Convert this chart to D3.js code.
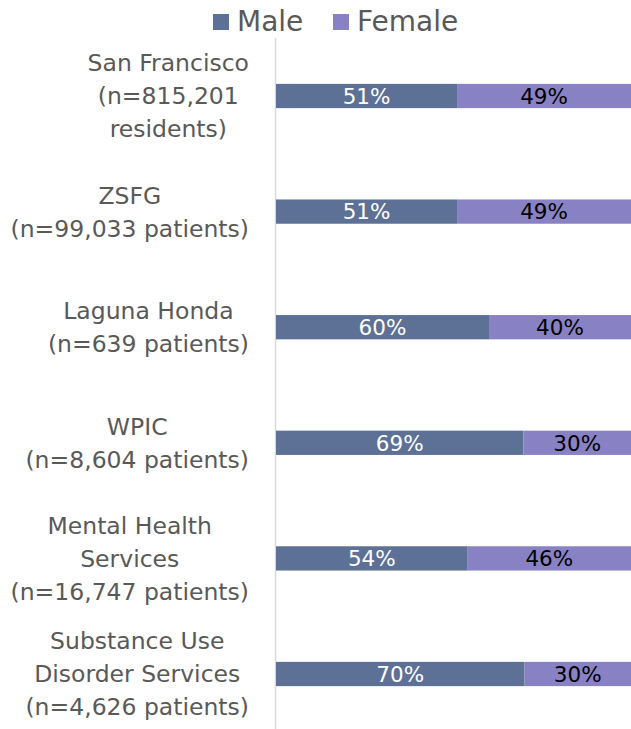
<!DOCTYPE html>
<html>
<head>
<meta charset="utf-8">
<script src="https://cdn.jsdelivr.net/npm/d3@7"></script>
<style>
  html, body { margin: 0; padding: 0; background: #fff; }
  svg { display: block; }
</style>
</head>
<body>
<svg id="chart" width="631" height="729"></svg>
<script>
// ---- data ----
const categories = [
  "San Francisco|(n=815,201|residents)",
  "ZSFG|(n=99,033 patients)",
  "Laguna Honda|(n=639 patients)",
  "WPIC|(n=8,604 patients)",
  "Mental Health|Services|(n=16,747 patients)",
  "Substance Use|Disorder Services|(n=4,626 patients)"
];
const seriesNames = ["Male", "Female"];
const male   = [51, 51, 60, 69, 54, 70];
const female = [49, 49, 40, 30, 46, 30];
const colors = ["#5d7096", "#8882c4"];
const labelColors = ["#ffffff", "#000000"];

// ---- layout ----
const svg = d3.select("#chart");
const W = 631, H = 729;
const FONT = "'DejaVu Sans', sans-serif";

const rows = categories.map((c, i) => ({ cat: c, Male: male[i], Female: female[i] }));
const stack = d3.stack().keys(seriesNames).offset(d3.stackOffsetExpand);
const stacked = stack(rows);

const x = d3.scaleLinear().domain([0, 1]).range([276, 631]);
const y = d3.scaleBand().domain(categories).range([38.2, 731.8])
  .paddingInner(0.79).paddingOuter(0.395);

// axis line
svg.append("line")
  .attr("x1", 275.5).attr("x2", 275.5)
  .attr("y1", 38).attr("y2", H)
  .attr("stroke", "#d9d9d9").attr("stroke-width", 1.5);

// bars
const groups = svg.selectAll("g.series").data(stacked).join("g")
  .attr("class", "series")
  .attr("fill", (d, i) => colors[i]);

groups.selectAll("rect").data(d => d).join("rect")
  .attr("x", d => x(d[0]))
  .attr("width", d => x(d[1]) - x(d[0]))
  .attr("y", d => y(d.data.cat))
  .attr("height", y.bandwidth());

// data labels
stacked.forEach((s, si) => {
  svg.append("g").selectAll("text").data(s).join("text")
    .attr("x", d => (x(d[0]) + x(d[1])) / 2)
    .attr("y", d => y(d.data.cat) + y.bandwidth() / 2)
    .attr("dy", "0.36em")
    .attr("text-anchor", "middle")
    .attr("font-family", FONT)
    .attr("font-size", 21.5)
    .attr("fill", labelColors[si])
    .text(d => d.data[s.key] + "%");
});

// category labels (lines centered within block, block right-aligned)
const lineH = 33;
categories.forEach(cat => {
  const lines = cat.split("|");
  const cy = y(cat) + y.bandwidth() / 2;
  const g = svg.append("g");
  const texts = lines.map((ln, i) => g.append("text")
    .attr("y", cy + (i - (lines.length - 1) / 2) * lineH)
    .attr("dy", "0.36em")
    .attr("text-anchor", "middle")
    .attr("font-family", FONT)
    .attr("font-size", 23.5)
    .attr("fill", "#595959")
    .text(ln));
  const maxW = d3.max(texts, t => t.node().getComputedTextLength());
  texts.forEach(t => t.attr("x", 249 - maxW / 2));
});

// legend
const legendX = [213, 333];
seriesNames.forEach((name, i) => {
  svg.append("rect")
    .attr("x", legendX[i]).attr("y", 14)
    .attr("width", 16).attr("height", 16)
    .attr("fill", colors[i]);
  svg.append("text")
    .attr("x", legendX[i] + 24).attr("y", 31)
    .attr("font-family", FONT)
    .attr("font-size", 28)
    .attr("fill", "#595959")
    .text(name);
});
</script>
</body>
</html>
